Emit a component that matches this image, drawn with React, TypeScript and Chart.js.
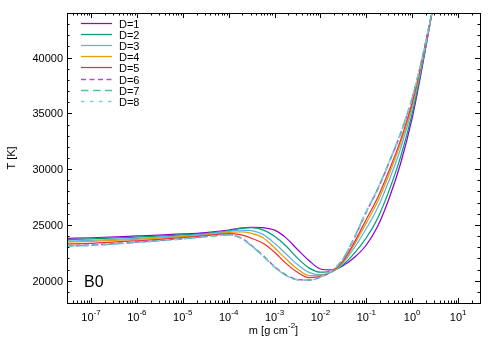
import React, { useEffect, useRef } from "react";
import { Chart, registerables } from "chart.js";

Chart.register(...registerables);

// column mass m [g cm^-2]
const massValues = [
  3e-8, 1e-7, 1e-6, 1e-5, 3.16e-5, 1e-4, 1.78e-4, 3.16e-4, 5.62e-4, 1e-3, 1.78e-3, 3.16e-3,
  5.62e-3, 1e-2, 1.78e-2, 3.16e-2, 5.62e-2, 0.1, 0.178, 0.316, 0.562, 1, 1.58, 2.69,
];

// temperature T [K] per model
const tempD1 = [23800, 23850, 24010, 24190, 24320, 24545, 24720, 24790, 24750, 24530, 23840, 22800, 21810, 21050, 20960, 21360, 22120, 23200, 24900, 27410, 30550, 34590, 38710, 44000];
const tempD2 = [23690, 23740, 23900, 24100, 24240, 24460, 24690, 24750, 24560, 23980, 23110, 22020, 21150, 20760, 20850, 21450, 22516, 23851, 25630, 28121, 31142, 34984, 38908, 44000];
const tempD3 = [23560, 23620, 23790, 24010, 24170, 24420, 24540, 24490, 24150, 23350, 22400, 21450, 20740, 20540, 20780, 21620, 23020, 24680, 26560, 29025, 31895, 35485, 39160, 44000];
const tempD4 = [23470, 23530, 23710, 23940, 24090, 24330, 24380, 24250, 23850, 22950, 21950, 21050, 20460, 20470, 20800, 21720, 23326, 25183, 27124, 29574, 32352, 35789, 39313, 44000];
const tempD5 = [23290, 23350, 23580, 23860, 24030, 24220, 24130, 23800, 23350, 22550, 21550, 20750, 20280, 20380, 20850, 21800, 23524, 25509, 27490, 29929, 32648, 35986, 39412, 44000];
const tempD6 = [23140, 23200, 23470, 23780, 23960, 24120, 23880, 23155, 22260, 21270, 20510, 20110, 20060, 20330, 20870, 21950, 23920, 26160, 28220, 30640, 33240, 36380, 39610, 44000];
const tempD7 = [23110, 23170, 23440, 23750, 23940, 24100, 23850, 23120, 22220, 21230, 20480, 20090, 20050, 20340, 20900, 22000, 23980, 26200, 28250, 30660, 33250, 36390, 39620, 44000];
const tempD8 = [23080, 23140, 23420, 23740, 23930, 24090, 23840, 23100, 22200, 21210, 20470, 20080, 20050, 20350, 20920, 22020, 24000, 26220, 28270, 30680, 33270, 36400, 39630, 44000];

const seriesLabels = ["D=1", "D=2", "D=3", "D=4", "D=5", "D=6", "D=7", "D=8"];
const seriesTemps = [tempD1, tempD2, tempD3, tempD4, tempD5, tempD6, tempD7, tempD8];
const seriesColors = ["#9400d3", "#009e73", "#56b4e9", "#e69f00", "#ee3030", "#b050e0", "#50c0a0", "#80c8ee"];
const seriesDashes: number[][] = [[], [], [], [], [], [5, 3.5], [7.5, 4.5], [3.5, 5.5]];
const seriesWidths = [1.25, 1.25, 1.25, 1.25, 1.25, 1.5, 1.5, 1.5];

const xTickExponents = [-7, -6, -5, -4, -3, -2, -1, 0, 1];
const yTickValues = [20000, 25000, 30000, 35000, 40000];
const X_MIN = 3e-8;
const X_MAX = 30;
const Y_MIN = 18000;
const Y_MAX = 44000;
const panelLabel = "B0";

const FONT = '"Liberation Sans", Arial, Helvetica, sans-serif';
const FS = 11;
const FS_SUP = 8;

const decorPlugin = {
  id: "gnuplotDecor",
  afterDraw(chart: any) {
    const ctx = chart.ctx as CanvasRenderingContext2D;
    const { left, right, top, bottom } = chart.chartArea;
    const xs = chart.scales.x;
    const ys = chart.scales.y;
    ctx.save();
    ctx.strokeStyle = "#000";
    ctx.lineWidth = 1;
    ctx.setLineDash([]);
    // ticks
    ctx.beginPath();
    for (let e = -8; e <= 1; e++) {
      for (let k = 1; k <= 9; k++) {
        const v = k * Math.pow(10, e);
        if (v < X_MIN || v > X_MAX) continue;
        const px = Math.round(xs.getPixelForValue(v)) + 0.5;
        const len = k === 1 ? 5 : 2.5;
        ctx.moveTo(px, bottom);
        ctx.lineTo(px, bottom - len);
        ctx.moveTo(px, top);
        ctx.lineTo(px, top + len);
      }
    }
    for (let v = Y_MIN; v <= Y_MAX; v += 1000) {
      const py = Math.round(ys.getPixelForValue(v)) + 0.5;
      const len = v % 5000 === 0 ? 5 : 2.5;
      ctx.moveTo(left, py);
      ctx.lineTo(left + len, py);
      ctx.moveTo(right, py);
      ctx.lineTo(right - len, py);
    }
    ctx.stroke();
    // frame
    ctx.strokeRect(Math.round(left) + 0.5, Math.round(top) + 0.5, Math.round(right - left), Math.round(bottom - top));

    ctx.fillStyle = "#000";
    // y tick labels
    ctx.font = `${FS}px ${FONT}`;
    ctx.textAlign = "right";
    ctx.textBaseline = "alphabetic";
    for (const v of yTickValues) {
      const py = ys.getPixelForValue(v);
      ctx.fillText(String(v), left - 4, py + 4);
    }
    // x tick labels 10^e
    for (const e of xTickExponents) {
      const px = xs.getPixelForValue(Math.pow(10, e));
      const exp = e < 0 ? "-" + Math.abs(e) : String(e);
      ctx.font = `${FS}px ${FONT}`;
      const wb = ctx.measureText("10").width;
      ctx.font = `${FS_SUP}px ${FONT}`;
      const we = ctx.measureText(exp).width;
      const x0 = px - (wb + we) / 2;
      ctx.textAlign = "left";
      ctx.font = `${FS}px ${FONT}`;
      ctx.fillText("10", x0, 320.5);
      ctx.font = `${FS_SUP}px ${FONT}`;
      ctx.fillText(exp, x0 + wb, 315);
    }
    // x title: m [g cm^-2]
    {
      const a = "m [g cm";
      const s = "-2";
      const b = "]";
      ctx.font = `${FS}px ${FONT}`;
      const wa = ctx.measureText(a).width;
      const wb = ctx.measureText(b).width;
      ctx.font = `${FS_SUP}px ${FONT}`;
      const ws = ctx.measureText(s).width;
      const cx = (left + right) / 2;
      const x0 = cx - (wa + ws + wb) / 2;
      ctx.textAlign = "left";
      ctx.font = `${FS}px ${FONT}`;
      ctx.fillText(a, x0, 333.5);
      ctx.font = `${FS_SUP}px ${FONT}`;
      ctx.fillText(s, x0 + wa, 328);
      ctx.font = `${FS}px ${FONT}`;
      ctx.fillText(b, x0 + wa + ws, 333.5);
    }
    // y title
    ctx.save();
    ctx.translate(15, (top + bottom) / 2);
    ctx.rotate(-Math.PI / 2);
    ctx.textAlign = "center";
    ctx.font = `${FS}px ${FONT}`;
    ctx.fillText("T [K]", 0, 0);
    ctx.restore();

    // legend
    for (let i = 0; i < seriesLabels.length; i++) {
      const y = Math.round(23 + i * 11.1) + 0.5;
      ctx.save();
      ctx.strokeStyle = seriesColors[i];
      ctx.lineWidth = seriesWidths[i];
      ctx.setLineDash(seriesDashes[i]);
      ctx.beginPath();
      ctx.moveTo(81, y);
      ctx.lineTo(112, y);
      ctx.stroke();
      ctx.restore();
      ctx.textAlign = "left";
      ctx.font = `${FS}px ${FONT}`;
      ctx.fillStyle = "#000";
      ctx.fillText(seriesLabels[i], 119, y + 4);
    }

    // panel label
    ctx.font = `16px ${FONT}`;
    ctx.textAlign = "left";
    ctx.fillText(panelLabel, 84, 286.5);
    ctx.restore();
  },
};

export default function App() {
  const canvasRef = useRef<HTMLCanvasElement | null>(null);

  useEffect(() => {
    const canvas = canvasRef.current;
    if (!canvas) return;
    const chart = new Chart(canvas, {
      type: "line",
      data: {
        datasets: seriesLabels.map((label, i) => ({
          label,
          data: massValues.map((m, j) => ({ x: m, y: seriesTemps[i][j] })),
          borderColor: seriesColors[i],
          backgroundColor: seriesColors[i],
          borderWidth: seriesWidths[i],
          borderDash: seriesDashes[i],
          pointRadius: 0,
          fill: false,
          cubicInterpolationMode: "monotone" as const,
          order: 8 - i,
        })),
      },
      options: {
        animation: false,
        responsive: false,
        devicePixelRatio: 1,
        layout: { padding: { left: 67, top: 13, right: 20, bottom: 47 } },
        plugins: { legend: { display: false }, tooltip: { enabled: false } },
        scales: {
          x: { type: "logarithmic", min: X_MIN, max: X_MAX, display: false },
          y: { type: "linear", min: Y_MIN, max: Y_MAX, display: false },
        },
      },
      plugins: [decorPlugin],
    });
    return () => chart.destroy();
  }, []);

  return (
    <div style={{ position: "fixed", left: 0, top: 0, width: 500, height: 350, background: "#fff" }}>
      <canvas ref={canvasRef} width={500} height={350} style={{ width: 500, height: 350, display: "block" }} />
    </div>
  );
}
